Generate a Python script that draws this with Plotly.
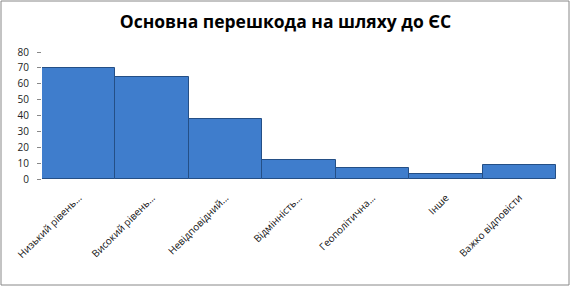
import plotly.graph_objects as go

categories = ["Низький рівень...", "Високий рівень...", "Невідповідний...", "Відмінність...",
              "Геополітична...", "Інше", "Важко відповісти"]
values = [70, 64, 38, 12, 7, 3, 9]
y_ticks = [0, 10, 20, 30, 40, 50, 60, 70, 80]

L, R, T, B = 42, 15, 52, 108
W, H = 571, 287
pw, ph = W - L - R, H - T - B

fig = go.Figure()
fig.add_trace(go.Bar(
    x=categories, y=values,
    marker=dict(color="#3F7DCC", line=dict(color="#244F86", width=1)),
    width=1.0,
))

fig.update_layout(
    width=W, height=H,
    margin=dict(l=L, r=R, t=T, b=B),
    paper_bgcolor="white", plot_bgcolor="white",
    showlegend=False,
    bargap=0,
    title=dict(text="<b>Основна перешкода на шляху до ЄС</b>", x=0.5, xanchor="center",
               y=1 - 22 / H, yanchor="middle",
               font=dict(family="Open Sans, Liberation Sans, sans-serif", size=17.5, color="black")),
    font=dict(family="Open Sans, Liberation Sans, sans-serif", size=10, color="black"),
    xaxis=dict(tickangle=-45, showgrid=False, showline=False, ticks="",
               ticklabelstandoff=10,
               tickfont=dict(size=10, color="#111")),
    yaxis=dict(range=[0, 80], tickvals=y_ticks, showgrid=False, showline=False,
               ticks="outside", ticklen=4, tickcolor="#888", tickfont=dict(size=10, color="#222"),
               ticklabelstandoff=6, zeroline=False),
    shapes=[dict(type="rect", xref="paper", yref="paper",
                 x0=(1 - L) / pw, x1=(W - 2 - L) / pw,
                 y0=(H - B - (H - 2)) / ph, y1=(H - B - 1) / ph,
                 line=dict(color="#888", width=1), fillcolor="rgba(0,0,0,0)")],
)

fig.write_html("out.html")
